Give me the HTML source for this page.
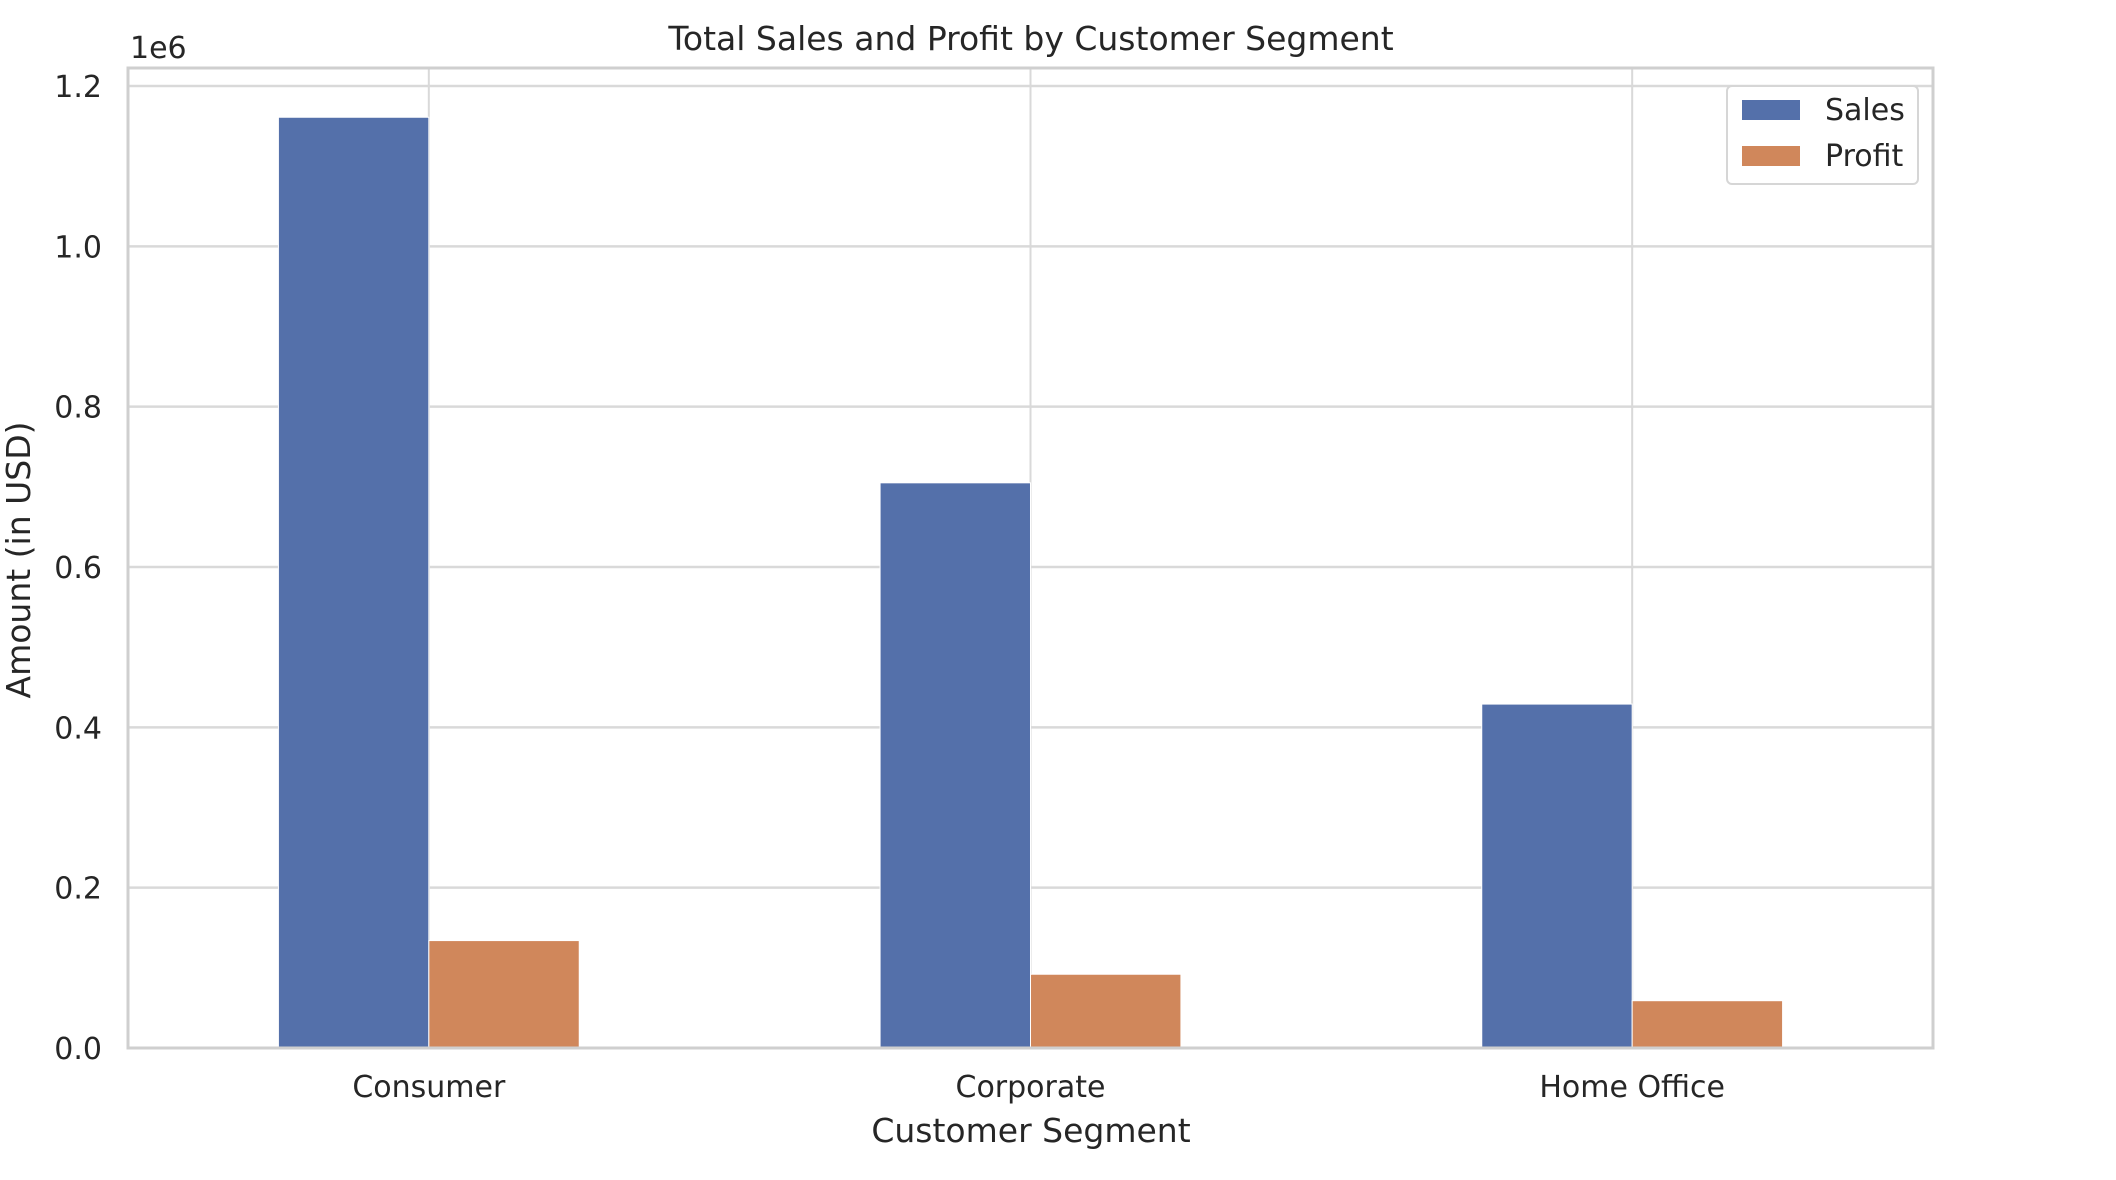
<!DOCTYPE html>
<html><head><meta charset="utf-8"><style>
html,body{margin:0;padding:0;background:#fff;}
svg{display:block;font-family:"DejaVu Sans","Liberation Sans",sans-serif;}
</style></head><body>
<svg id="chart" width="2116" height="1180" viewBox="0 0 2116 1180" xmlns="http://www.w3.org/2000/svg">
<rect x="0" y="0" width="2116" height="1180" fill="#fff"/>
<g id="grid"></g>
<g id="bars"></g>
<rect x="128" y="68" width="1805" height="980" fill="none" stroke="#cfcfcf" stroke-width="3"/>
<g id="yticks"></g>
<g id="xticks"></g>
<text x="130" y="58" font-size="30" fill="#262626">1e6</text>
<text x="1031" y="50" font-size="33" fill="#262626" text-anchor="middle">Total Sales and Profit by Customer Segment</text>
<text x="1031" y="1142" font-size="33" fill="#262626" text-anchor="middle">Customer Segment</text>
<text transform="translate(30,560) rotate(-90)" font-size="33" fill="#262626" text-anchor="middle">Amount (in USD)</text>
<g>
<rect x="1727" y="86" width="191" height="98" rx="5" fill="#fff" stroke="#d6d6d6" stroke-width="2"/>
<rect x="1742" y="100" width="58" height="20" fill="#5470aa"/>
<text x="1825" y="120" font-size="30" fill="#262626">Sales</text>
<rect x="1742" y="146" width="58" height="20" fill="#d0875b"/>
<text x="1825" y="166" font-size="30" fill="#262626">Profit</text>
</g>
</svg>
<script>
const categories = ["Consumer", "Corporate", "Home Office"];
const sales = [1161000, 705000, 429000];
const profit = [134000, 92000, 59000];
const yTicks = [0, 0.2, 0.4, 0.6, 0.8, 1.0, 1.2];
const yTickLabels = ["0.0", "0.2", "0.4", "0.6", "0.8", "1.0", "1.2"];

const NS = "http://www.w3.org/2000/svg";
const X0 = 128, X1 = 1933, Y0 = 1048, Ytop = 86;
function xScale(i){ return X0 + (i + 0.5) * (X1 - X0) / categories.length; }
function yScale(v){ return Y0 - v / 1.2e6 * (Y0 - Ytop); }
const step = (X1 - X0) / categories.length;
const bw = step * 0.25;
function mk(tag, attrs, parent){ const e = document.createElementNS(NS, tag); for (const k in attrs) e.setAttribute(k, attrs[k]); parent.appendChild(e); return e; }
const grid = document.getElementById('grid'), bars = document.getElementById('bars');
const yt = document.getElementById('yticks'), xt = document.getElementById('xticks');
yTicks.forEach((t, i) => {
  const y = yScale(t * 1e6);
  const l = mk('line', {x1: X0, x2: X1, y1: y, y2: y, stroke: '#d9d9d9', 'stroke-width': 2.5}, grid);
  
  
  const tx = mk('text', {x: 102, y: y + 11, 'font-size': 30, fill: '#262626', 'text-anchor': 'end'}, yt);
  tx.textContent = yTickLabels[i];
  
  
});
categories.forEach((c, i) => {
  const cx = xScale(i);
  const l = mk('line', {x1: cx, x2: cx, y1: 68, y2: Y0, stroke: '#d9d9d9', 'stroke-width': 2}, grid);
  
  
  const s = mk('rect', {x: cx - bw, y: yScale(sales[i]), width: bw, height: Y0 - yScale(sales[i]), fill: '#5470aa', stroke: '#fff', 'stroke-width': 1}, bars);
  
  
  const p = mk('rect', {x: cx, y: yScale(profit[i]), width: bw, height: Y0 - yScale(profit[i]), fill: '#d0875b', stroke: '#fff', 'stroke-width': 1}, bars);
  
  
  const tx = mk('text', {x: cx, y: 1097, 'font-size': 30, fill: '#262626', 'text-anchor': 'middle'}, xt);
  tx.textContent = c;
  
  
});
</script>
</body></html>
